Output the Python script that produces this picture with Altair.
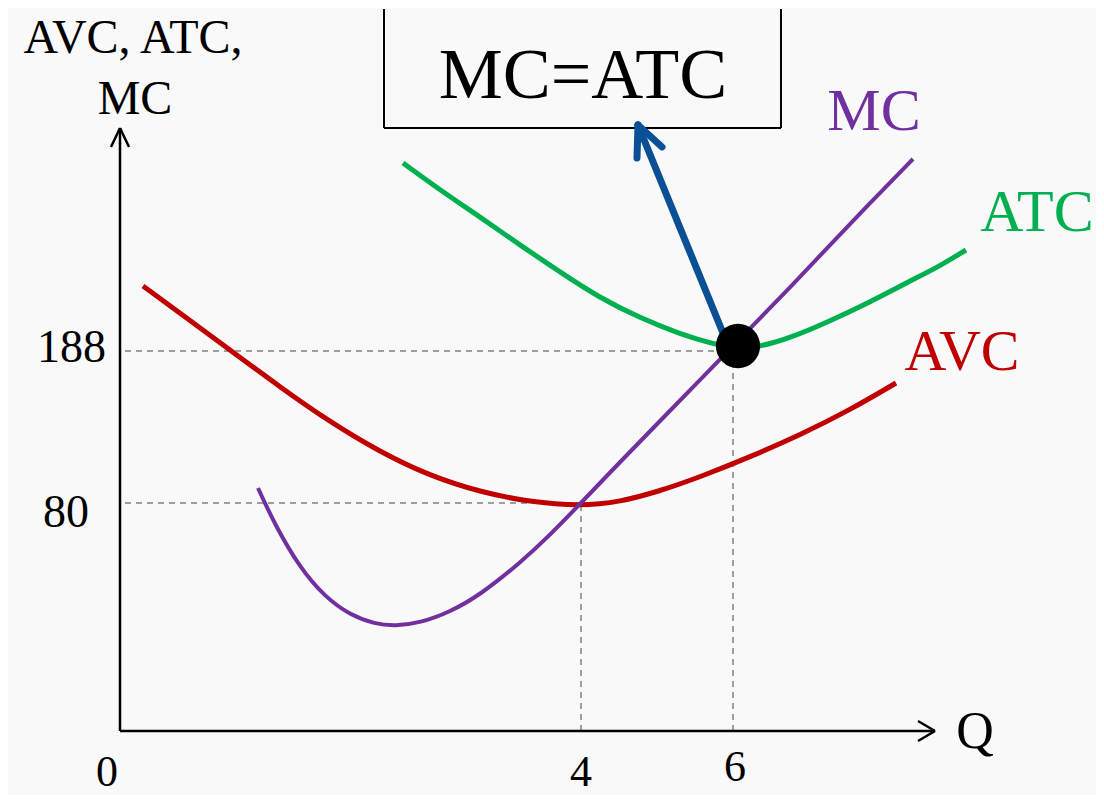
import altair as alt
import pandas as pd

# Drawing units: horizontal = quantity position, vertical = cost position (schematic, not to scale)
mc_q = [138, 155, 180, 205, 230, 255, 275, 300, 330, 360, 400, 430, 461, 500, 540, 580, 613, 660, 710, 750, 793]
mc_c = [243, 206, 163, 134, 116, 107, 105, 108, 119, 136, 168, 196, 228, 269, 310, 351, 385, 433, 486, 528, 572]

atc_q = [283, 320, 360, 400, 440, 480, 520, 560, 590, 613, 640, 670, 710, 750, 790, 820, 846]
atc_c = [568, 541, 514, 486, 459, 433, 413, 397, 388, 383, 384, 393, 410, 429, 450, 465, 481]

avc_q = [23, 60, 110, 160, 210, 260, 310, 360, 410, 460, 500, 540, 580, 630, 680, 730, 776]
avc_c = [445, 418, 381, 344, 309, 279, 255, 239, 229, 225, 229, 240, 254, 274, 296, 321, 348]

# key points: (q_pos, c_pos)
avc_min = (461, 228)     # Q=4, cost=80
atc_min = (613, 380)     # Q=6, cost=188
dot = (618, 385)

y_tick_labels = ["188", "80"]
y_tick_pos = [369, 204]
x_tick_labels = ["0", "4", "6"]
x_tick_pos = [-13, 461, 615]
x_tick_base = [-55, -55, -50]

XDOM = [-112, 976]
YDOM = [-61, 723]
xs = alt.Scale(domain=XDOM, nice=False, zero=False)
ys = alt.Scale(domain=YDOM, nice=False, zero=False)

def curve(q, c, color, width):
    df = pd.DataFrame({"q": q, "c": c, "i": range(len(q))})
    return alt.Chart(df).mark_line(color=color, strokeWidth=width, interpolate="basis", strokeCap="butt").encode(
        x=alt.X("q:Q", scale=xs, axis=None),
        y=alt.Y("c:Q", scale=ys, axis=None),
        order="i:Q",
    )

def segs(rows, color, width, dash=None, cap="butt"):
    df = pd.DataFrame(rows, columns=["x1", "y1", "x2", "y2"])
    kw = dict(color=color, strokeWidth=width, strokeCap=cap)
    if dash:
        kw["strokeDash"] = dash
    return alt.Chart(df).mark_rule(**kw).encode(
        x=alt.X("x1:Q", scale=xs, axis=None),
        y=alt.Y("y1:Q", scale=ys, axis=None),
        x2="x2:Q",
        y2="y2:Q",
    )

def label(rows, color, size, align="center"):
    df = pd.DataFrame(rows, columns=["x", "y", "t"])
    return alt.Chart(df).mark_text(
        color=color, fontSize=size, font="Liberation Serif", align=align, baseline="alphabetic"
    ).encode(
        x=alt.X("x:Q", scale=xs, axis=None),
        y=alt.Y("y:Q", scale=ys, axis=None),
        text="t:N",
    )

dashed = segs(
    [
        (5, atc_min[1], atc_min[0], atc_min[1]),
        (5, avc_min[1], avc_min[0], avc_min[1]),
        (avc_min[0], 0, avc_min[0], avc_min[1]),
        (atc_min[0], 0, atc_min[0], atc_min[1]),
    ],
    "#808080", 1.5, dash=[6, 5],
)

axes = segs(
    [
        (0, 0, 0, 603),
        (0, 0, 815, 0),
        (0, 603, -9, 584),
        (0, 603, 9, 584),
        (815, 0, 798, 10),
        (815, 0, 798, -10),
    ],
    "black", 2.5,
)

box = segs(
    [
        (264, 603, 661, 603),
        (264, 603, 264, 722),
        (661, 603, 661, 722),
    ],
    "black", 2,
)

arrow = segs(
    [
        (605, 393, 518, 606),
        (518, 606, 517, 573),
        (518, 606, 542, 584),
    ],
    "#0B4F94", 7, cap="round",
)

dot_df = pd.DataFrame({"q": [dot[0]], "c": [dot[1]]})
dot_mark = alt.Chart(dot_df).mark_circle(size=1960, color="black", opacity=1).encode(
    x=alt.X("q:Q", scale=xs, axis=None), y=alt.Y("c:Q", scale=ys, axis=None)
)

texts = [
    label([(13, 678, "AVC, ATC,"), (15, 617, "MC")], "black", 48),
    label([(463, 633, "MC=ATC")], "black", 72),
    label([(754, 601, "MC")], "#7030A0", 60),
    label([(917, 500, "ATC")], "#00B050", 60),
    label([(842, 361, "AVC")], "#C00000", 58),
    label([(-14, y_tick_pos[0], y_tick_labels[0])], "black", 46, align="right"),
    label([(-54, y_tick_pos[1], y_tick_labels[1])], "black", 46),
    label([(x, b, t) for t, x, b in zip(x_tick_labels, x_tick_pos, x_tick_base)], "black", 44),
    label([(855, -17, "Q")], "black", 52),
]

chart = alt.layer(
    dashed,
    axes,
    box,
    curve(avc_q, avc_c, "#C00000", 5),
    curve(atc_q, atc_c, "#00B050", 5),
    curve(mc_q, mc_c, "#7030A0", 4),
    arrow,
    dot_mark,
    *texts,
).properties(width=1088, height=784, padding=0, background="#f9f9f9").configure_view(stroke=None)

chart.save("out.html", embed_options={"renderer": "svg", "actions": False})
